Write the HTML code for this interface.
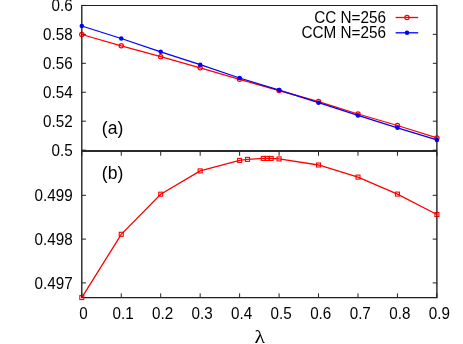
<!DOCTYPE html><html><head><meta charset="utf-8"><style>html,body{margin:0;padding:0;background:#fff;width:463px;height:344px;overflow:hidden}</style></head><body><svg width="463" height="344" viewBox="0 0 463 344" style="position:absolute;left:0;top:0">
<rect width="463" height="344" fill="#fff"/>
<g stroke="#1e1e1e" stroke-width="1.2" fill="none">
<path d="M81.8 298.20000000000005V5.5H436.9V298.20000000000005M81.8 297.6H436.9"/>
<path d="M81.8 150.55H436.9M81.8 151.55H436.9" stroke-width="1.05" stroke="#2a2a2a"/>
</g>
<g stroke="#222" stroke-width="1" fill="none">
<path d="M81.8 5.4h4.1M436.9 5.4h-4.1"/>
<path d="M81.8 34.35h4.1M436.9 34.35h-4.1"/>
<path d="M81.8 63.3h4.1M436.9 63.3h-4.1"/>
<path d="M81.8 92.25h4.1M436.9 92.25h-4.1"/>
<path d="M81.8 121.2h4.1M436.9 121.2h-4.1"/>
<path d="M81.8 150.15h4.1M436.9 150.15h-4.1"/>
<path d="M81.80 297.6v-4.2M81.80 151.55v4.2"/>
<path d="M121.26 297.6v-4.2M121.26 151.55v4.2"/>
<path d="M160.71 297.6v-4.2M160.71 151.55v4.2"/>
<path d="M200.17 297.6v-4.2M200.17 151.55v4.2"/>
<path d="M239.62 297.6v-4.2M239.62 151.55v4.2"/>
<path d="M279.08 297.6v-4.2M279.08 151.55v4.2"/>
<path d="M318.53 297.6v-4.2M318.53 151.55v4.2"/>
<path d="M357.99 297.6v-4.2M357.99 151.55v4.2"/>
<path d="M397.44 297.6v-4.2M397.44 151.55v4.2"/>
<path d="M436.90 297.6v-4.2M436.90 151.55v4.2"/>
<path d="M81.8 195.3h4.2M436.9 195.3h-4.2"/>
<path d="M81.8 239.1h4.2M436.9 239.1h-4.2"/>
<path d="M81.8 282.9h4.2M436.9 282.9h-4.2"/>
</g>
<polyline fill="none" stroke="#ff0000" stroke-width="1.3" points="81.80,34.5 121.26,45.8 160.71,56.7 200.17,67.8 239.62,79.3 279.08,90.5 318.53,101.6 357.99,114.0 397.44,125.5 436.90,137.9"/>
<circle cx="81.80" cy="34.5" r="2.15" fill="none" stroke="#ff0000" stroke-width="1.2"/>
<circle cx="121.26" cy="45.8" r="2.15" fill="none" stroke="#ff0000" stroke-width="1.2"/>
<circle cx="160.71" cy="56.7" r="2.15" fill="none" stroke="#ff0000" stroke-width="1.2"/>
<circle cx="200.17" cy="67.8" r="2.15" fill="none" stroke="#ff0000" stroke-width="1.2"/>
<circle cx="239.62" cy="79.3" r="2.15" fill="none" stroke="#ff0000" stroke-width="1.2"/>
<circle cx="279.08" cy="90.5" r="2.15" fill="none" stroke="#ff0000" stroke-width="1.2"/>
<circle cx="318.53" cy="101.6" r="2.15" fill="none" stroke="#ff0000" stroke-width="1.2"/>
<circle cx="357.99" cy="114.0" r="2.15" fill="none" stroke="#ff0000" stroke-width="1.2"/>
<circle cx="397.44" cy="125.5" r="2.15" fill="none" stroke="#ff0000" stroke-width="1.2"/>
<circle cx="436.90" cy="137.9" r="2.15" fill="none" stroke="#ff0000" stroke-width="1.2"/>
<polyline fill="none" stroke="#0000ff" stroke-width="1.3" points="81.80,26.0 121.26,38.5 160.71,51.8 200.17,64.7 239.62,78.0 279.08,90.1 318.53,102.7 357.99,115.4 397.44,127.8 436.90,139.9"/>
<circle cx="81.80" cy="26.0" r="2.25" fill="#0000ff"/>
<circle cx="121.26" cy="38.5" r="2.25" fill="#0000ff"/>
<circle cx="160.71" cy="51.8" r="2.25" fill="#0000ff"/>
<circle cx="200.17" cy="64.7" r="2.25" fill="#0000ff"/>
<circle cx="239.62" cy="78.0" r="2.25" fill="#0000ff"/>
<circle cx="279.08" cy="90.1" r="2.25" fill="#0000ff"/>
<circle cx="318.53" cy="102.7" r="2.25" fill="#0000ff"/>
<circle cx="357.99" cy="115.4" r="2.25" fill="#0000ff"/>
<circle cx="397.44" cy="127.8" r="2.25" fill="#0000ff"/>
<circle cx="436.90" cy="139.9" r="2.25" fill="#0000ff"/>
<polyline fill="none" stroke="#ff0000" stroke-width="1.3" points="81.80,297.55 121.26,234.3 160.71,194.2 200.17,170.9 239.62,160.4 247.51,159.4 263.30,158.4 267.24,158.4 271.19,158.4 279.08,158.9 318.53,165.0 357.99,177.1 397.44,194.1 436.90,214.5"/>
<rect x="79.80" y="295.55" width="4" height="4" fill="none" stroke="#ff0000" stroke-width="1.1"/>
<rect x="119.26" y="232.3" width="4" height="4" fill="none" stroke="#ff0000" stroke-width="1.1"/>
<rect x="158.71" y="192.2" width="4" height="4" fill="none" stroke="#ff0000" stroke-width="1.1"/>
<rect x="198.17" y="168.9" width="4" height="4" fill="none" stroke="#ff0000" stroke-width="1.1"/>
<rect x="237.62" y="158.4" width="4" height="4" fill="none" stroke="#ff0000" stroke-width="1.1"/>
<rect x="245.51" y="157.4" width="4" height="4" fill="none" stroke="#ff0000" stroke-width="1.1"/>
<rect x="261.30" y="156.4" width="4" height="4" fill="none" stroke="#ff0000" stroke-width="1.1"/>
<rect x="265.24" y="156.4" width="4" height="4" fill="none" stroke="#ff0000" stroke-width="1.1"/>
<rect x="269.19" y="156.4" width="4" height="4" fill="none" stroke="#ff0000" stroke-width="1.1"/>
<rect x="277.08" y="156.9" width="4" height="4" fill="none" stroke="#ff0000" stroke-width="1.1"/>
<rect x="316.53" y="163.0" width="4" height="4" fill="none" stroke="#ff0000" stroke-width="1.1"/>
<rect x="355.99" y="175.1" width="4" height="4" fill="none" stroke="#ff0000" stroke-width="1.1"/>
<rect x="395.44" y="192.1" width="4" height="4" fill="none" stroke="#ff0000" stroke-width="1.1"/>
<rect x="434.90" y="212.5" width="4" height="4" fill="none" stroke="#ff0000" stroke-width="1.1"/>
<path d="M395.6 17.5H418.2" stroke="#ff0000" stroke-width="1.3"/><circle cx="407" cy="17.5" r="2.15" fill="none" stroke="#ff0000" stroke-width="1.2"/>
<path d="M395.6 32.8H418.2" stroke="#0000ff" stroke-width="1.3"/><circle cx="407" cy="32.8" r="2.25" fill="#0000ff"/>
<path d="M81.8 5.5V297.6M436.9 5.5V297.6" stroke="#000" stroke-width="1" opacity="0.35" fill="none"/>
<g style="will-change:transform" font-family="Liberation Sans, sans-serif" font-size="15.5" fill="#000">
<text transform="translate(72.6 11.4) scale(0.982 1.02)" text-anchor="end">0.6</text>
<text transform="translate(72.6 40.4) scale(0.982 1.02)" text-anchor="end">0.58</text>
<text transform="translate(72.6 69.4) scale(0.982 1.02)" text-anchor="end">0.56</text>
<text transform="translate(72.6 98.4) scale(0.982 1.02)" text-anchor="end">0.54</text>
<text transform="translate(72.6 127.4) scale(0.982 1.02)" text-anchor="end">0.52</text>
<text transform="translate(72.6 156.4) scale(0.982 1.02)" text-anchor="end">0.5</text>
<text transform="translate(72.6 201.20000000000002) scale(0.982 1.02)" text-anchor="end">0.499</text>
<text transform="translate(72.6 245.0) scale(0.982 1.02)" text-anchor="end">0.498</text>
<text transform="translate(72.6 288.79999999999995) scale(0.982 1.02)" text-anchor="end">0.497</text>
<text transform="translate(83.50 318.7) scale(0.982 1.04)" text-anchor="middle">0</text>
<text transform="translate(123.04 318.7) scale(0.982 1.04)" text-anchor="middle">0.1</text>
<text transform="translate(162.57 318.7) scale(0.982 1.04)" text-anchor="middle">0.2</text>
<text transform="translate(202.11 318.7) scale(0.982 1.04)" text-anchor="middle">0.3</text>
<text transform="translate(241.64 318.7) scale(0.982 1.04)" text-anchor="middle">0.4</text>
<text transform="translate(281.18 318.7) scale(0.982 1.04)" text-anchor="middle">0.5</text>
<text transform="translate(320.71 318.7) scale(0.982 1.04)" text-anchor="middle">0.6</text>
<text transform="translate(360.25 318.7) scale(0.982 1.04)" text-anchor="middle">0.7</text>
<text transform="translate(399.78 318.7) scale(0.982 1.04)" text-anchor="middle">0.8</text>
<text transform="translate(439.32 318.7) scale(0.982 1.04)" text-anchor="middle">0.9</text>
<text transform="translate(386 22.6) scale(0.987 1.05)" text-anchor="end">CC N=256</text>
<text transform="translate(386 37.9) scale(0.987 1.05)" text-anchor="end">CCM N=256</text>
<text transform="translate(101.8 133.8) scale(0.95 1)" font-size="18.5">(a)</text>
<text transform="translate(101.8 179.1) scale(0.95 1)" font-size="18.5">(b)</text>
</g>
<text style="will-change:transform" transform="translate(259.9 342.5) scale(1.1 1)" text-anchor="middle" font-family="Liberation Serif, serif" font-size="19.8" fill="#000">λ</text>
</svg></body></html>
